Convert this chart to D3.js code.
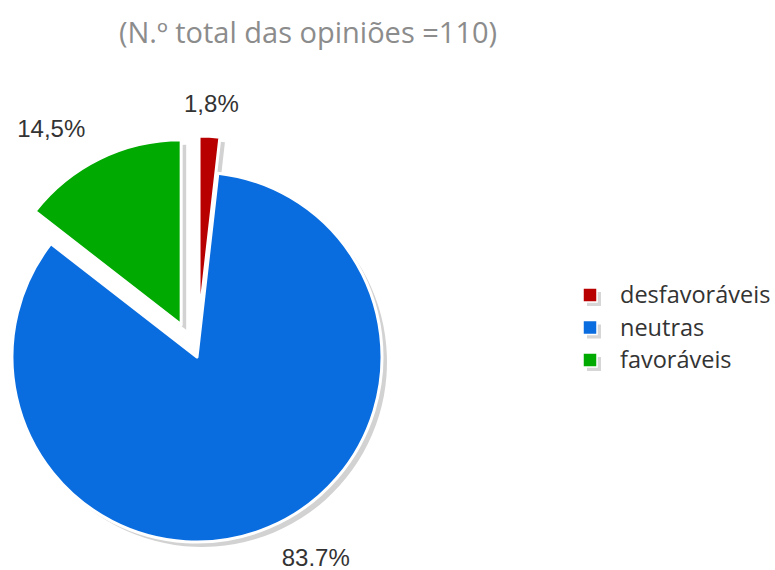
<!DOCTYPE html>
<html>
<head>
<meta charset="utf-8">
<script src="https://cdn.jsdelivr.net/npm/d3@7"></script>
<style>
  body { margin: 0; background: #ffffff; }
</style>
</head>
<body>
<div id="chart"></div>
<script>
// Chart data
const categories = ["desfavoráveis", "neutras", "favoráveis"];
const values = [1.8, 83.7, 14.5];
const valueLabels = ["1,8%", "83.7%", "14,5%"];
const explodedSlices = ["desfavoráveis", "favoráveis"];
const titleText = "(N.º total das opiniões =110)";

function createPie() {
  const width = 775;
  const height = 570;
  const cx = 197, cy = 357;
  const radius = 185;
  const explode = 36;
  const labelRadius = 218;

  const svg = d3.select("#chart")
    .append("svg")
    .attr("width", width)
    .attr("height", height)
    .style("background", "#ffffff");

  const color = d3.scaleOrdinal()
    .domain(categories)
    .range(["#b90000", "#0a6ddf", "#00aa00"]);

  // Title
  svg.append("text")
    .attr("x", 308)
    .attr("y", 43)
    .attr("text-anchor", "middle")
    .style("font-family", "'Open Sans', sans-serif")
    .style("font-size", "29px")
    .style("fill", "#8c8c8c")
    .text(titleText);

  const pie = d3.pie().sort(null).value(d => d.value);
  const arcs = pie(categories.map((c, i) => ({ name: c, value: values[i], label: valueLabels[i] })));
  const arc = d3.arc().innerRadius(0).outerRadius(radius);

  // offset of each slice centre
  function offset(d) {
    if (!explodedSlices.includes(d.data.name)) return [0, 0];
    const mid = (d.startAngle + d.endAngle) / 2;
    return [Math.sin(mid) * explode, -Math.cos(mid) * explode];
  }

  const g = svg.append("g").attr("transform", `translate(${cx}, ${cy})`);

  // Shadows
  g.selectAll("path.shadow")
    .data(arcs)
    .join("path")
    .attr("class", "shadow")
    .attr("d", arc)
    .attr("transform", d => {
      const o = offset(d);
      return `translate(${o[0] + 5}, ${o[1] + 5})`;
    })
    .attr("fill", "#d2d2d2");

  // Slices
  g.selectAll("path.slice")
    .data(arcs)
    .join("path")
    .attr("class", "slice")
    .attr("d", arc)
    .attr("transform", d => {
      const o = offset(d);
      return `translate(${o[0]}, ${o[1]})`;
    })
    .attr("fill", d => color(d.data.name))
    .attr("stroke", "#ffffff")
    .attr("stroke-width", 3)
    .attr("stroke-linejoin", "round");

  // Value labels
  g.selectAll("text.value")
    .data(arcs)
    .join("text")
    .attr("class", "value")
    .each(function(d) {
      const mid = (d.startAngle + d.endAngle) / 2;
      const o = offset(d);
      const s = Math.sin(mid);
      const x = o[0] + s * labelRadius;
      const y = o[1] - Math.cos(mid) * labelRadius;
      d3.select(this)
        .attr("x", x)
        .attr("y", y)
        .attr("dy", "0.35em")
        .attr("text-anchor", Math.abs(s) < 0.3 ? "middle" : (s > 0 ? "start" : "end"));
    })
    .style("font-family", "'Liberation Sans', Arial, sans-serif")
    .style("font-size", "24px")
    .style("fill", "#333333")
    .text(d => d.data.label);

  // Legend
  const legend = svg.append("g")
    .attr("transform", "translate(583, 288)");

  categories.forEach((c, i) => {
    const row = legend.append("g").attr("transform", `translate(0, ${i * 32.5})`);
    row.append("rect")
      .attr("x", 4)
      .attr("y", 4)
      .attr("width", 14)
      .attr("height", 14)
      .attr("fill", "#d6d6d6");
    row.append("rect")
      .attr("x", 0)
      .attr("y", 0)
      .attr("width", 14)
      .attr("height", 14)
      .attr("fill", color(c))
      .attr("stroke", "#ffffff")
      .attr("stroke-width", 1.5);
    row.append("text")
      .attr("x", 37)
      .attr("y", 7)
      .attr("dy", "0.35em")
      .style("font-family", "'Open Sans', sans-serif")
      .style("font-size", "23.5px")
      .style("fill", "#333333")
      .text(c);
  });
}

createPie();
</script>
</body>
</html>
